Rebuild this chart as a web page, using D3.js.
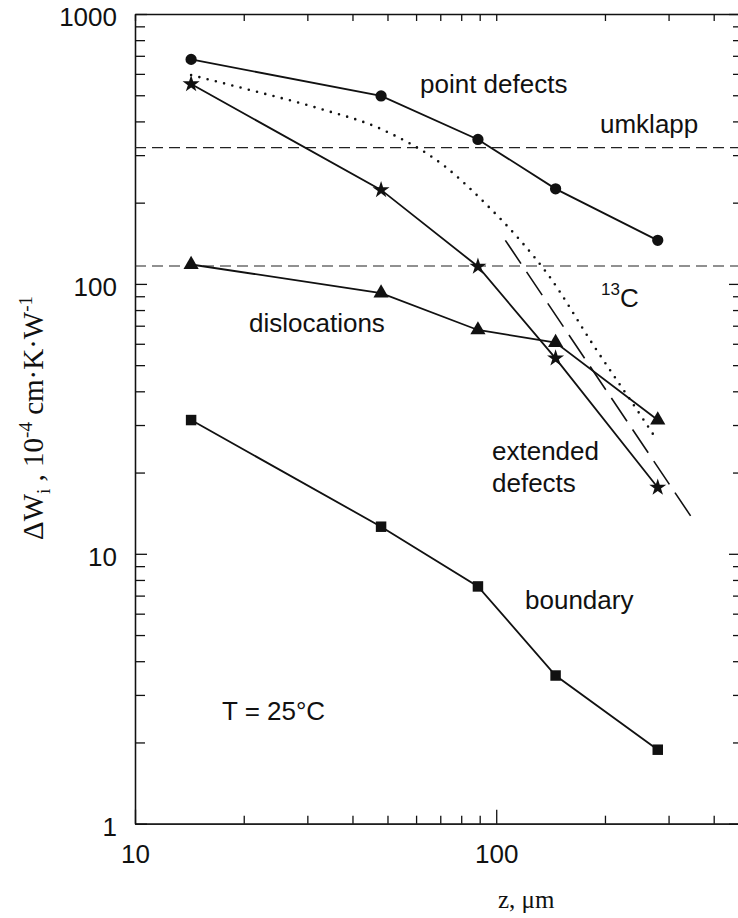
<!DOCTYPE html>
<meta charset="utf-8">
<head>
  <title>Thermal resistivity contributions</title>
</head>
<style>
body { margin: 0; background: #fff; }
svg text { font-family: "Liberation Sans", Arial, Helvetica, sans-serif; font-size: 26px; fill: #111; }
.serif { font-family: "Liberation Serif", "Times New Roman", serif; }
.axis path, .axis line { stroke: #111; stroke-width: 1.3; }
</style>
<body>
<div id="content"></div>
<script src="https://cdnjs.cloudflare.com/ajax/libs/d3/7.8.5/d3.min.js"></script>
<script>

// data
var z = [14.3, 48, 89, 146, 280];
var pointDefects = [679, 497, 343, 225, 145];
var extendedDefects = [550, 223, 116, 53, 17.6];
var dislocations = [118, 92.5, 67.5, 60.6, 31.3];
var boundary = [31.3, 12.6, 7.57, 3.54, 1.88];
var umklapp = 320;
var carbon13 = 116.5;
// dotted curve (no markers)
var totalZ = [14.3, 20.8, 31.9, 48.6, 72.2, 94.2, 116.5, 139.3, 185.6, 250.6, 278.6];
var totalW = [594, 523, 449, 372, 272, 196, 145, 108, 59.4, 32.7, 26.4];
// long dashed line
var fitZ = [106, 356];
var fitW = [145, 13];

var xMajor = [10, 100];
var xMinor = [20, 30, 40, 50, 60, 70, 80, 90, 200, 300, 400];
var yMajor = [1, 10, 100, 1000];
var yMinor = [2, 3, 4, 5, 6, 7, 8, 9, 20, 30, 40, 50, 60, 70, 80, 90, 200, 300, 400, 500, 600, 700, 800, 900];

var W = 738, H = 918;
var mLeft = 135, mRight = 739, mTop = 14, mBottom = 823.7;

var svg = d3.select('#content').append('svg')
  .attr('width', W).attr('height', H);

var x = d3.scaleLog().domain([10, 470]).range([mLeft, mRight]);
var y = d3.scaleLog().domain([1, 1000]).range([mBottom, mTop]);

function fmt(d) { return d3.format('d')(d); }

// axes: minor ticks first, then majors with labels
svg.append('g').attr('class', 'axis').attr('transform', 'translate(0,' + mBottom + ')')
  .call(d3.axisBottom(x).tickValues(xMinor).tickSize(-8).tickSizeOuter(0).tickFormat(''));
svg.append('g').attr('class', 'axis xl').attr('transform', 'translate(0,' + mBottom + ')')
  .call(d3.axisBottom(x).tickValues(xMajor).tickSize(-14).tickSizeOuter(0).tickPadding(21).tickFormat(fmt));
svg.append('g').attr('class', 'axis').attr('transform', 'translate(0,' + mTop + ')')
  .call(d3.axisTop(x).tickValues(xMinor.concat(xMajor)).tickSize(-7).tickSizeOuter(0).tickFormat(''));

svg.append('g').attr('class', 'axis').attr('transform', 'translate(' + mLeft + ',0)')
  .call(d3.axisLeft(y).tickValues(yMinor).tickSize(-10).tickSizeOuter(0).tickFormat(''));
svg.append('g').attr('class', 'axis yl').attr('transform', 'translate(' + mLeft + ',0)')
  .call(d3.axisLeft(y).tickValues(yMajor).tickSize(-12).tickSizeOuter(0).tickPadding(18).tickFormat(fmt));
svg.append('g').attr('class', 'axis').attr('transform', 'translate(' + mRight + ',0)')
  .call(d3.axisRight(y).tickValues(yMinor).tickSize(-6).tickSizeOuter(0).tickFormat(''));
svg.append('g').attr('class', 'axis').attr('transform', 'translate(' + mRight + ',0)')
  .call(d3.axisRight(y).tickValues(yMajor).tickSize(-10).tickSizeOuter(0).tickFormat(''));

svg.selectAll('.axis text').style('font-size', '26px').attr('fill', '#111');
svg.selectAll('.yl text').attr('dy', '0.45em');

// horizontal dashed reference lines
[umklapp, carbon13].forEach(function(v) {
  svg.append('line')
    .attr('x1', mLeft).attr('x2', mRight)
    .attr('y1', y(v)).attr('y2', y(v))
    .attr('stroke', '#222').attr('stroke-width', 1.2)
    .attr('stroke-dasharray', '11,6');
});

var line = d3.line().x(function(d) { return x(d[0]); }).y(function(d) { return y(d[1]); });

// dotted curve
svg.append('path')
  .attr('d', line.curve(d3.curveMonotoneX)(d3.zip(totalZ, totalW)))
  .attr('fill', 'none').attr('stroke', '#111').attr('stroke-width', 2.6)
  .attr('stroke-linecap', 'round').attr('stroke-dasharray', '0,8.5');
line.curve(d3.curveLinear);

// long dashed line
svg.append('path')
  .attr('d', line(d3.zip(fitZ, fitW)))
  .attr('fill', 'none').attr('stroke', '#111').attr('stroke-width', 1.6)
  .attr('stroke-dasharray', '28,10');

var series = [
  { v: pointDefects, sym: d3.symbolCircle, size: 100 },
  { v: extendedDefects, sym: d3.symbolStar, size: 90 },
  { v: dislocations, sym: d3.symbolTriangle, size: 100 },
  { v: boundary, sym: d3.symbolSquare, size: 110 }
];

series.forEach(function(s) {
  var pts = d3.zip(z, s.v);
  svg.append('path')
    .attr('d', line(pts))
    .attr('fill', 'none').attr('stroke', '#111').attr('stroke-width', 1.8);
  svg.selectAll(null).data(pts).enter().append('path')
    .attr('transform', function(d) { return 'translate(' + x(d[0]) + ',' + y(d[1]) + ')'; })
    .attr('d', d3.symbol().type(s.sym).size(s.size))
    .attr('fill', '#111');
});

// labels
function label(txt, lx, ly) {
  return svg.append('text').attr('x', lx).attr('y', ly).text(txt);
}
label('point defects', 420, 93);
label('umklapp', 600, 133);
label('dislocations', 249, 332);
label('extended', 492, 460);
label('defects', 492, 492);
label('boundary', 525, 609);
label('T = 25°C', 222, 720);

var c13 = svg.append('text').attr('x', 601).attr('y', 307);
c13.append('tspan').attr('dy', -12).style('font-size', '17px').text('13');
c13.append('tspan').attr('dy', 12).text('C');

// axis titles
svg.append('text').attr('class', 'serif')
  .attr('x', 498).attr('y', 908).style('font-size', '25px')
  .text('z, μm');

var yt = svg.append('text').attr('class', 'serif')
  .attr('transform', 'translate(43,540) rotate(-90)')
  .style('font-size', '29px');
yt.append('tspan').text('ΔW');
yt.append('tspan').attr('dy', 7).style('font-size', '19px').text('i');
yt.append('tspan').attr('dy', -7).text(' , 10');
yt.append('tspan').attr('dy', -11).style('font-size', '19px').text('-4');
yt.append('tspan').attr('dy', 11).text(' cm·K·W');
yt.append('tspan').attr('dy', -11).style('font-size', '19px').text('-1');

</script>
</body>
</html>
